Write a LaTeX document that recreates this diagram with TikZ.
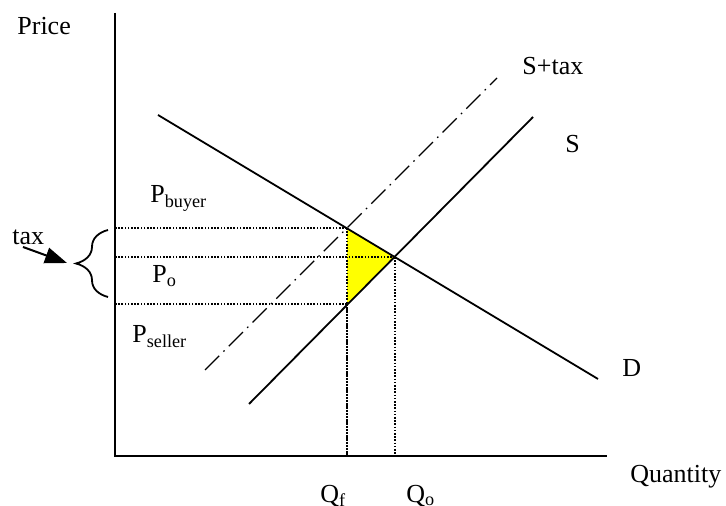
\documentclass[tikz,border=0pt]{standalone}
\usepackage{fontspec}
\setmainfont{Liberation Serif}
\usetikzlibrary{arrows.meta,decorations.pathreplacing}
\definecolor{wedge}{RGB}{255,255,0}

\begin{document}
\begin{tikzpicture}[x=0.5pt,y=-0.5pt,
  lbl/.style={font=\fontsize{13}{15}\selectfont,anchor=base west,inner sep=0pt},
  axisline/.style={line width=1.2pt},
  curve/.style={line width=0.9pt},
  guide/.style={line width=1pt,dash pattern=on 0.8pt off 0.8pt},
  taxed/.style={line width=0.6pt,dash pattern=on 10pt off 3pt on 0.8pt off 3pt}]
\useasboundingbox (0,0) rectangle (726,506);
% points
\coordinate (O) at (115,456);
\coordinate (ytop) at (115,13);
\coordinate (xend) at (607,456);
\coordinate (d1) at (158,115);
\coordinate (d2) at (598,379);
\coordinate (s1) at (249,404);
\coordinate (s2) at (533,117);
\coordinate (t1) at (205,370);
\coordinate (t2) at (497,78);
\coordinate (buy) at (347,228);
\coordinate (eq) at (395,257);
\coordinate (sell) at (347,304);
% deadweight loss
\fill[wedge] (buy) -- (eq) -- (sell) -- cycle;
% guides to the axes
\foreach \p in {buy,eq,sell}{
  \draw[guide] (\p) -- (\p -| O);
  \draw[guide] (\p) -- (\p |- O);
}
% axes
\draw[axisline] (ytop) -- (O) -- (xend);
% curves
\draw[curve] (d1) -- (d2);
\draw[curve] (s1) -- (s2);
\draw[taxed] (t1) -- (t2);
% labels
\node[lbl] (price) at (17,35) {Price};
\node[lbl] (qty) at (630,482) {Quantity};
\node[lbl] (pb) at (150,203) {P\textsubscript{buyer}};
\node[lbl] (po) at (152,283) {P\textsubscript{o}};
\node[lbl] (ps) at (132,343) {P\textsubscript{seller}};
\node[lbl] (stax) at (522,75) {S+tax};
\node[lbl] (slbl) at (565,153) {S};
\node[lbl] (dlbl) at (622,377) {D};
\node[lbl] (qf) at (320,502) {Q\textsubscript{f}};
\node[lbl] (qo) at (406,502) {Q\textsubscript{o}};
% tax brace
\node[lbl] (tax) at (12,245) {tax};
\coordinate (bbot) at (108,297);
\coordinate (btop) at (108,230);
\coordinate (btip) at (67,263);
\coordinate (tail) at (23,247);
\draw[line width=0.9pt,decorate,decoration={brace,amplitude=16pt}] (bbot) -- (btop);
\draw[-{Triangle[length=11pt,width=8pt]},line width=1pt] (tail) -- (btip);
\end{tikzpicture}
\end{document}
